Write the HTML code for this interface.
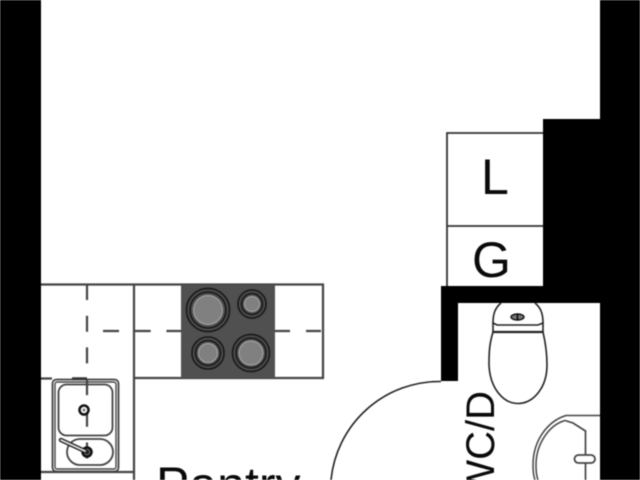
<!DOCTYPE html>
<html>
<head>
<meta charset="utf-8">
<style>
html,body{margin:0;padding:0;background:#fff;width:640px;height:480px;overflow:hidden}
svg{display:block;filter:blur(0.4px);overflow:hidden}
text{font-family:"Liberation Sans",sans-serif;fill:#0a0a0a}
</style>
</head>
<body>
<svg width="640" height="480" viewBox="0 0 640 480" xmlns="http://www.w3.org/2000/svg">
<rect width="640" height="480" fill="#fff"/>

<!-- counter -->
<g fill="none" stroke="#444" stroke-width="2.2">
<path d="M41 284.500H323V378H134"/>
<path d="M134 284.500V480"/>
<path d="M41 378.500H52M41 472H134"/>
</g>
<g fill="none" stroke="#444" stroke-width="2.2" stroke-dasharray="16 15.700">
<path d="M87 284V460"/>
<path d="M103 331H181"/>
<path d="M275 331H323" stroke-dasharray="15 16"/>
</g>

<!-- hob -->
<rect x="181" y="285" width="94" height="93" fill="#505050"/>
<g fill="none" stroke="#1c1c1c" stroke-width="1.800">
<circle cx="208" cy="310" r="21.500"/><circle cx="208" cy="310" r="18"/>
<circle cx="252" cy="304" r="14"/><circle cx="252" cy="304" r="10.500"/>
<circle cx="208" cy="353" r="16"/><circle cx="208" cy="353" r="12.500"/>
<circle cx="251" cy="353" r="18.500"/><circle cx="251" cy="353" r="15"/>
</g>
<g fill="#808080" stroke="#aaa" stroke-width="1">
<circle cx="208" cy="310" r="14.500"/>
<circle cx="252" cy="304" r="7.500"/>
<circle cx="208" cy="353" r="9.500"/>
<circle cx="251" cy="353" r="12"/>
</g>

<!-- sink -->
<g fill="none" stroke="#444">
<rect x="52.500" y="379.500" width="66" height="92" rx="4" stroke-width="1.800"/>
<rect x="55" y="382" width="61" height="87" rx="2" stroke-width="1.400"/>
<rect x="58.500" y="384.500" width="54" height="51" rx="8" stroke-width="1.800"/>
<rect x="67" y="439" width="46" height="26" rx="13" stroke-width="1.800"/>
</g>
<path d="M72 378.500H87" stroke="#333" stroke-width="2.500"/>
<circle cx="84" cy="410" r="4.500" fill="#fff" stroke="#111" stroke-width="2.500"/>
<circle cx="84" cy="410" r="1.500" fill="#777"/>
<circle cx="87" cy="452" r="4.500" fill="#777" stroke="#111" stroke-width="2.500"/>
<path d="M61 440L87 452" stroke="#222" stroke-width="4.500" stroke-linecap="round"/>
<path d="M61 440L87 452" stroke="#eee" stroke-width="1.600" stroke-linecap="round"/>
<circle cx="87" cy="452" r="1.500" fill="#222"/>

<!-- walls -->
<g fill="#000">
<rect x="0" y="0" width="41" height="480"/>
<rect x="600" y="0" width="40" height="480"/>
<rect x="543" y="119" width="58" height="184"/>
<rect x="441" y="286" width="160" height="17"/>
<rect x="441" y="286" width="17" height="95"/>
</g>

<!-- L / G cupboards -->
<g fill="none" stroke="#333" stroke-width="1.800">
<path d="M543 133H447V286"/>
<path d="M447 226H543"/>
</g>
<text x="481" y="194" font-size="50">L</text>
<text x="472" y="277" font-size="50">G</text>

<!-- door -->
<path d="M441 381.500H440A109 109 0 0 0 331 480" fill="none" stroke="#222" stroke-width="1.600"/>

<!-- toilet -->
<g fill="#fff" stroke="#222" stroke-width="1.600">
<path d="M493 332C489 345 489 355 489 365C490 388 503 403.500 518 403.500C533 403.500 547 388 547 365C547 355 546 345 543 332Z"/>
<path d="M493 332V323H543V332"/>
<path d="M501 303C495 308 493 314 493 323L497 325H538L543 323C543 314 541 308 535 303"/>
</g>
<path d="M493 332H543" stroke="#222" stroke-width="2.200"/>
<ellipse cx="517.500" cy="317" rx="6.500" ry="3" fill="#777" stroke="#111" stroke-width="1.400"/>
<path d="M517.500 314V320" stroke="#000" stroke-width="1.400"/>

<!-- basin -->
<g fill="none" stroke="#444" stroke-width="1.500">
<path d="M600 415.500H566C548 421 533 440 533 465C533 471 533.500 476 535 480"/>
<path d="M565 420.500C549 425 536 444 536 465C536 471 536.500 476 538 480"/>
<path d="M565 420.500L573 423L585.500 431V480" stroke-width="1.700"/>
</g>
<rect x="574.500" y="455" width="20.500" height="8" rx="4" fill="#fff" stroke="#444" stroke-width="1.800"/>

<!-- labels -->
<text x="156" y="502" font-size="50">Pantry</text>
<text transform="translate(494 391) rotate(-90)" font-size="40" text-anchor="end" x="0" y="0">WC/D</text>
</svg>
</body>
</html>
